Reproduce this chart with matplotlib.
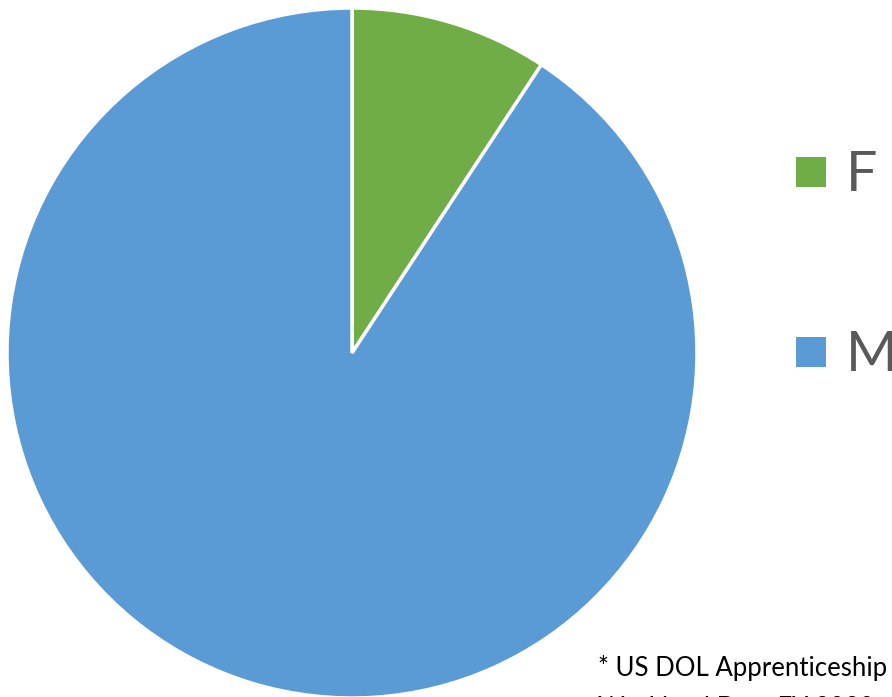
import matplotlib
matplotlib.use('Agg')
from matplotlib import pyplot as plt
from matplotlib.patches import Rectangle

# share of apprentices by sex
labels = ['F', 'M']
shares = [9.25, 90.75]
colors = ['#70AD47', '#5B9BD5']
note_lines = ['* US DOL Apprenticeship', 'Workload Data FY 2020']

W, H = 892, 697
fig = plt.figure(figsize=(W / 100, H / 100), dpi=100)
plt.rcParams['font.family'] = ['Lato', 'DejaVu Sans']

# pie placed by pixel: centre (352, 353), radius 345
cx, cy, r = 352, 353, 345
ax = fig.add_axes([(cx - r) / W, (H - cy - r) / H, 2 * r / W, 2 * r / H])
ax.pie(shares, colors=colors, startangle=90, counterclock=False,
       wedgeprops=dict(edgecolor='white', linewidth=2.5))
ax.set_xlim(-1, 1)
ax.set_ylim(-1, 1)
ax.set_aspect('equal')
ax.axis('off')

# legend, drawn by hand
for i, (lab, col) in enumerate(zip(labels, colors)):
    yc = 172 + i * 180
    fig.patches.append(Rectangle((796 / W, 1 - (yc + 15) / H), 30 / W, 30 / H,
                                 transform=fig.transFigure, facecolor=col,
                                 edgecolor='none'))
    fig.text(846 / W, 1 - (yc + 19) / H, lab, fontsize=40, color='#595959',
             va='baseline', ha='left')

# footnote, runs off the edge like the original
for i, line in enumerate(note_lines):
    fig.text(598 / W, 1 - (676 + i * 40) / H, line, fontsize=18.5,
             color='black', va='baseline', ha='left')

fig.savefig('out.png', dpi=100)
